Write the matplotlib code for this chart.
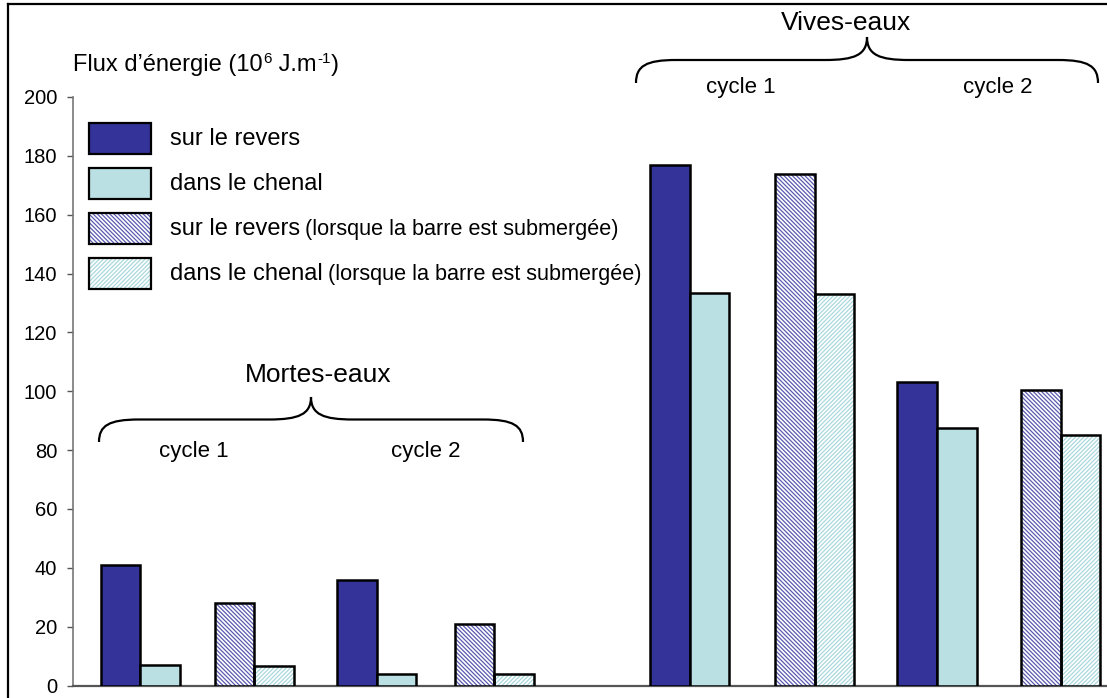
import matplotlib
matplotlib.use("Agg")
import matplotlib.pyplot as plt
from matplotlib.path import Path
from matplotlib.patches import PathPatch, Rectangle
from matplotlib.lines import Line2D

plt.rcParams['font.family'] = ['Liberation Sans', 'DejaVu Sans']
plt.rcParams['hatch.linewidth'] = 0.9

# ---- data ----
periods = ['Mortes-eaux', 'Vives-eaux']
cycles = ['cycle 1', 'cycle 2']
# order: Mortes c1, Mortes c2, Vives c1, Vives c2
revers = [41, 36, 177, 103]
chenal = [7, 4, 133.5, 87.5]
revers_sub = [28, 21, 174, 100.5]
chenal_sub = [6.6, 4, 133, 85]
legend_main = ['sur le revers', 'dans le chenal', 'sur le revers', 'dans le chenal']
legend_extra = ['', '', '(lorsque la barre est submergée)', '(lorsque la barre est submergée)']
yticks = [0, 20, 40, 60, 80, 100, 120, 140, 160, 180, 200]
# y label pieces: (text, is_superscript)
ylabel_parts = [('Flux d’énergie (10', False), ('6', True), (' J.m', False), ('-1', True), (')', False)]

# group centre positions (normal groups, submerged groups)
pos_normal = [0.56, 2.53, 5.14, 7.20]
pos_sub = [1.51, 3.51, 6.18, 8.23]
bw = 0.33

DARK = '#333399'
LIGHT = '#BBE0E3'
DARK_H = '#5A5AB0'
LIGHT_H = '#A9D8DD'
HATCH_D = '\\' * 8
HATCH_L = '/' * 8

W, H = 1107, 698
fig = plt.figure(figsize=(W / 100, H / 100), dpi=100)
ax = fig.add_axes([73 / W, (H - 685.5) / H, (W - 73) / W, (685.5 - 97) / H])

# normal bars
ax.bar([p - bw / 2 for p in pos_normal], revers, bw, color=DARK, edgecolor='black', linewidth=1.8, zorder=3)
ax.bar([p + bw / 2 for p in pos_normal], chenal, bw, color=LIGHT, edgecolor='black', linewidth=1.8, zorder=3)
# submerged (hatched) bars
ax.bar([p - bw / 2 for p in pos_sub], revers_sub, bw, color='white', edgecolor=DARK_H, hatch=HATCH_D, linewidth=0, zorder=3)
ax.bar([p - bw / 2 for p in pos_sub], revers_sub, bw, fill=False, edgecolor='black', linewidth=1.8, zorder=4)
ax.bar([p + bw / 2 for p in pos_sub], chenal_sub, bw, color='white', edgecolor=LIGHT_H, hatch=HATCH_L, linewidth=0, zorder=3)
ax.bar([p + bw / 2 for p in pos_sub], chenal_sub, bw, fill=False, edgecolor='black', linewidth=1.8, zorder=4)

ax.set_xlim(0, (W - 73) / 120)
ax.set_ylim(0, 200)
ax.set_yticks(yticks)
ax.set_xticks([])
ax.tick_params(axis='y', direction='out', length=4.5, width=1, color='#555555', pad=7, labelsize=14.5)
for s in ['top', 'right']:
    ax.spines[s].set_visible(False)
ax.spines['left'].set_color('#777777')
ax.spines['left'].set_linewidth(1.2)
ax.spines['bottom'].set_color('#555555')
ax.spines['bottom'].set_linewidth(1.6)
ax.patch.set_visible(False)

# pixel helpers (y measured from top)
def fx(x):
    return x / W

def fy(y):
    return (H - y) / H

# figure frame
fig.add_artist(Line2D([fx(8), fx(W)], [fy(4), fy(4)], color='black', linewidth=1.6))
fig.add_artist(Line2D([fx(8), fx(8)], [fy(4), fy(H)], color='black', linewidth=1.6))

fig.canvas.draw()
renderer = fig.canvas.get_renderer()

# y label with manual superscripts
xcur = 73
for txt, sup in ylabel_parts:
    if sup:
        t = fig.text(fx(xcur + 1), fy(71 - 8), txt, fontsize=11, ha='left', va='baseline')
    else:
        t = fig.text(fx(xcur), fy(71), txt, fontsize=17, ha='left', va='baseline')
    bb = t.get_window_extent(renderer=renderer)
    xcur = bb.x1

# braces
def brace(x0, x1, xp, yend, yflat, ypeak, w=40, wp=42):
    verts = [
        (x0, yend),
        (x0, yflat + 6), (x0 + w * 0.25, yflat), (x0 + w, yflat),
        (xp - wp, yflat),
        (xp - wp * 0.3, yflat), (xp, yflat - 5), (xp, ypeak),
        (xp, yflat - 5), (xp + wp * 0.3, yflat), (xp + wp, yflat),
        (x1 - w, yflat),
        (x1 - w * 0.25, yflat), (x1, yflat + 6), (x1, yend),
    ]
    codes = [Path.MOVETO,
             Path.CURVE4, Path.CURVE4, Path.CURVE4,
             Path.LINETO,
             Path.CURVE4, Path.CURVE4, Path.CURVE4,
             Path.CURVE4, Path.CURVE4, Path.CURVE4,
             Path.LINETO,
             Path.CURVE4, Path.CURVE4, Path.CURVE4]
    verts = [(fx(a), fy(b)) for a, b in verts]
    fig.add_artist(PathPatch(Path(verts, codes), fill=False, edgecolor='black',
                             linewidth=1.6, transform=fig.transFigure))

brace(99, 523, 311, 442, 419.5, 397)
brace(636, 1098, 867, 83, 60, 37)

fig.text(fx(318), fy(382), periods[0], fontsize=19, ha='center', va='baseline')
fig.text(fx(194), fy(457), cycles[0], fontsize=16, ha='center', va='baseline')
fig.text(fx(426), fy(457), cycles[1], fontsize=16, ha='center', va='baseline')
fig.text(fx(846), fy(30), periods[1], fontsize=19, ha='center', va='baseline')
fig.text(fx(741), fy(93), cycles[0], fontsize=16, ha='center', va='baseline')
fig.text(fx(998), fy(93), cycles[1], fontsize=16, ha='center', va='baseline')

# legend (manual)
styles = [
    dict(face=DARK, hatch=None, hc=None),
    dict(face=LIGHT, hatch=None, hc=None),
    dict(face='white', hatch=HATCH_D, hc=DARK_H),
    dict(face='white', hatch=HATCH_L, hc=LIGHT_H),
]
bx0, bx1 = 89, 151
for i, st in enumerate(styles):
    top = 123.3 + 45 * i
    bot = top + 31
    if st['hatch']:
        fig.add_artist(Rectangle((fx(bx0), fy(bot)), fx(bx1) - fx(bx0), fy(top) - fy(bot),
                                 facecolor='white', edgecolor=st['hc'], hatch=st['hatch'],
                                 linewidth=0, transform=fig.transFigure))
        fig.add_artist(Rectangle((fx(bx0), fy(bot)), fx(bx1) - fx(bx0), fy(top) - fy(bot),
                                 fill=False, edgecolor='black', linewidth=1.6,
                                 transform=fig.transFigure))
    else:
        fig.add_artist(Rectangle((fx(bx0), fy(bot)), fx(bx1) - fx(bx0), fy(top) - fy(bot),
                                 facecolor=st['face'], edgecolor='black', linewidth=1.6,
                                 transform=fig.transFigure))
    yc = (top + bot) / 2
    t = fig.text(fx(170), fy(yc + 6.5), legend_main[i], fontsize=17, ha='left', va='baseline')
    if legend_extra[i]:
        bb = t.get_window_extent(renderer=renderer)
        fig.text((bb.x1 + 5) / W, fy(yc + 6.5), legend_extra[i], fontsize=15.6,
                 ha='left', va='baseline')

fig.savefig('out.png', dpi=100)
